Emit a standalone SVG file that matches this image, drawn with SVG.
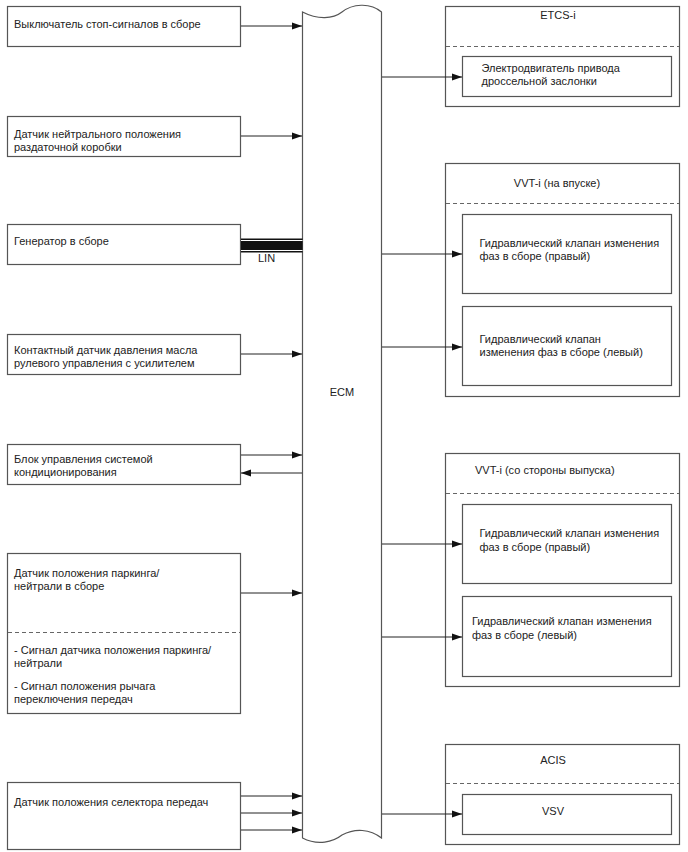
<svg xmlns="http://www.w3.org/2000/svg" width="688" height="852" viewBox="0 0 688 852">
<defs>
<style>
.box{fill:#fff;stroke:#555;stroke-width:1.2}
.dash{stroke:#666;stroke-width:1;stroke-dasharray:4 3;fill:none}
.t{font-family:"Liberation Sans",Arial,sans-serif;font-size:11px;fill:#222}
.c{stroke:#222;stroke-width:1;fill:none;marker-end:url(#ah)}
.ecm{fill:#fff;stroke:#555;stroke-width:1.2}
</style>
<marker id="ah" viewBox="0 0 10 8" refX="10" refY="4" markerWidth="10" markerHeight="8" markerUnits="userSpaceOnUse" orient="auto">
<path d="M0,0.5 L10,4 L0,7.5 Z" fill="#111"/>
</marker>
</defs>
<rect width="688" height="852" fill="#fff"/>

<g id="ecm">
<path class="ecm" d="M302.5,12 C318,20 333,19 342,12 C352,4 370,2 381.5,12 L381.5,838 C370,829 355,828 342,835 C333,842 318,846 302.5,838 Z"/>
<text class="t" x="342" y="396" text-anchor="middle">ECM</text>
</g>

<g id="n1">
<rect class="box" x="7.5" y="6.5" width="233" height="40"/>
<text class="t" x="14" y="28">Выключатель стоп-сигналов в сборе</text>
</g>
<g id="n2">
<rect class="box" x="7.5" y="116.5" width="233" height="40"/>
<text class="t" x="14" y="138">Датчик нейтрального положения</text>
<text class="t" x="14" y="151">раздаточной коробки</text>
</g>
<g id="n3">
<rect class="box" x="7.5" y="224.5" width="233" height="40"/>
<text class="t" x="14" y="245">Генератор в сборе</text>
</g>
<g id="n4">
<rect class="box" x="7.5" y="334.5" width="233" height="40"/>
<text class="t" x="14" y="354">Контактный датчик давления масла</text>
<text class="t" x="14" y="367">рулевого управления с усилителем</text>
</g>
<g id="n5">
<rect class="box" x="7.5" y="444.5" width="233" height="40"/>
<text class="t" x="14" y="462.5">Блок управления системой</text>
<text class="t" x="14" y="476">кондиционирования</text>
</g>
<g id="n6">
<rect class="box" x="7.5" y="553.5" width="233" height="160"/>
<line class="dash" x1="8" y1="632.5" x2="240" y2="632.5"/>
<text class="t" x="14" y="576.5">Датчик положения паркинга/</text>
<text class="t" x="14" y="589.5">нейтрали в сборе</text>
<text class="t" x="14" y="654">- Сигнал датчика положения паркинга/</text>
<text class="t" x="14" y="667">нейтрали</text>
<text class="t" x="14" y="690">- Сигнал положения рычага</text>
<text class="t" x="14" y="703">переключения передач</text>
</g>
<g id="n7">
<rect class="box" x="7.5" y="782.5" width="233" height="67"/>
<text class="t" x="14" y="806">Датчик положения селектора передач</text>
</g>

<g id="etcs">
<rect class="box" x="445.5" y="6.5" width="234" height="100"/>
<line class="dash" x1="446" y1="46.5" x2="679" y2="46.5"/>
<text class="t" x="558" y="19" text-anchor="middle">ETCS-i</text>
<rect class="box" x="462.5" y="56.5" width="209" height="40"/>
<text class="t" x="481.5" y="71.5">Электродвигатель привода</text>
<text class="t" x="481.5" y="84.5">дроссельной заслонки</text>
</g>
<g id="vvt-in">
<rect class="box" x="445.5" y="163.5" width="234" height="233"/>
<line class="dash" x1="446" y1="203.5" x2="679" y2="203.5"/>
<text class="t" x="557" y="186.5" text-anchor="middle">VVT-i (на впуске)</text>
<rect class="box" x="462.5" y="214.5" width="209" height="79"/>
<text class="t" x="479.5" y="246.5">Гидравлический клапан изменения</text>
<text class="t" x="479.5" y="260">фаз в сборе (правый)</text>
<rect class="box" x="462.5" y="306.5" width="209" height="79"/>
<text class="t" x="479.5" y="342.5">Гидравлический клапан</text>
<text class="t" x="479.5" y="356">изменения фаз в сборе (левый)</text>
</g>
<g id="vvt-ex">
<rect class="box" x="445.5" y="453.5" width="234" height="233"/>
<line class="dash" x1="446" y1="493.5" x2="679" y2="493.5"/>
<text class="t" x="475" y="474">VVT-i (со стороны выпуска)</text>
<rect class="box" x="462.5" y="504.5" width="209" height="79"/>
<text class="t" x="479.5" y="537">Гидравлический клапан изменения</text>
<text class="t" x="479.5" y="550.5">фаз в сборе (правый)</text>
<rect class="box" x="462.5" y="596.5" width="209" height="80"/>
<text class="t" x="472" y="625">Гидравлический клапан изменения</text>
<text class="t" x="472" y="638.5">фаз в сборе (левый)</text>
</g>
<g id="acis">
<rect class="box" x="445.5" y="744.5" width="234" height="100"/>
<line class="dash" x1="446" y1="783.5" x2="679" y2="783.5"/>
<text class="t" x="553" y="764" text-anchor="middle">ACIS</text>
<rect class="box" x="462.5" y="794.5" width="209" height="40"/>
<text class="t" x="553" y="815" text-anchor="middle">VSV</text>
</g>

<g id="connectors">
<line class="c" x1="241" y1="26" x2="302" y2="26"/>
<line class="c" x1="241" y1="136" x2="302" y2="136"/>
<line class="c" x1="241" y1="354" x2="302" y2="354"/>
<line class="c" x1="241" y1="455" x2="302" y2="455"/>
<line class="c" x1="302" y1="473" x2="241" y2="473"/>
<line class="c" x1="241" y1="593" x2="302" y2="593"/>
<line class="c" x1="241" y1="796" x2="302" y2="796"/>
<line class="c" x1="241" y1="813" x2="302" y2="813"/>
<line class="c" x1="241" y1="830" x2="302" y2="830"/>
<line class="c" x1="382" y1="77" x2="462" y2="77"/>
<line class="c" x1="382" y1="254" x2="462" y2="254"/>
<line class="c" x1="382" y1="347" x2="462" y2="347"/>
<line class="c" x1="382" y1="544" x2="462" y2="544"/>
<line class="c" x1="382" y1="637" x2="462" y2="637"/>
<line class="c" x1="382" y1="814" x2="462" y2="814"/>
<g id="lin">
<rect x="241" y="238.5" width="61.5" height="14" fill="#111"/>
<line x1="241" y1="240.5" x2="302.5" y2="240.5" stroke="#fff" stroke-width="1"/>
<line x1="241" y1="250.5" x2="302.5" y2="250.5" stroke="#fff" stroke-width="1"/>
<text class="t" x="258" y="262">LIN</text>
</g>
</g>
</svg>
